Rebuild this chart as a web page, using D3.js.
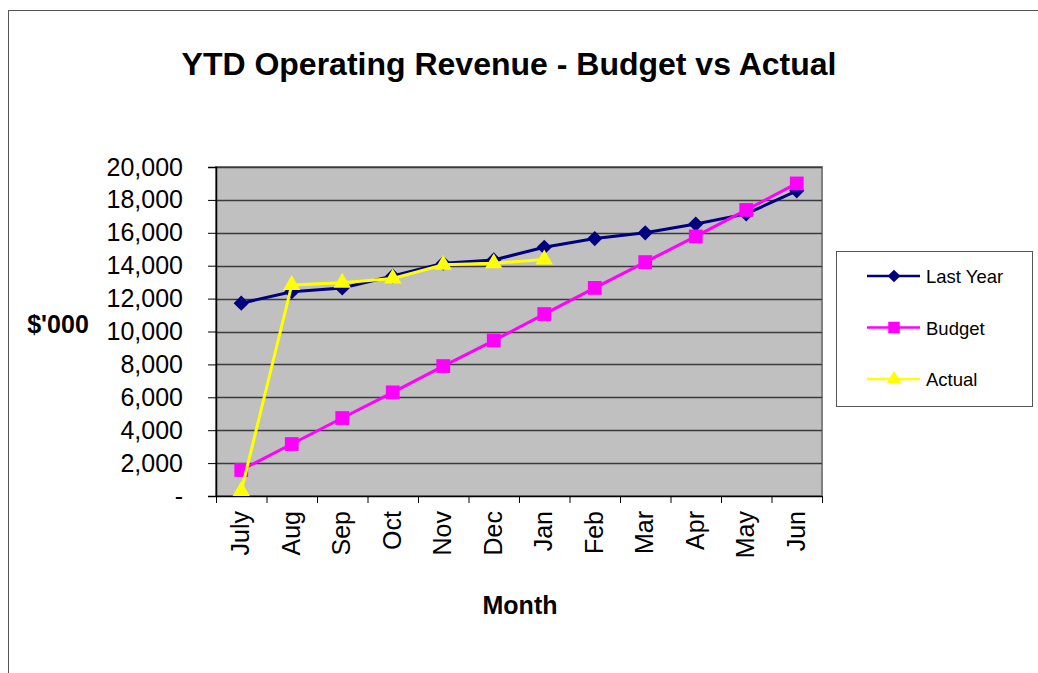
<!DOCTYPE html>
<html>
<head>
<meta charset="utf-8">
<script src="https://cdn.jsdelivr.net/npm/d3@7"></script>
<style>
  body { margin: 0; background: #fff; }
  text { font-family: "Liberation Sans", Arial, sans-serif; }
</style>
</head>
<body>
<div id="chart"></div>
<script>
// data
const months = ["July", "Aug", "Sep", "Oct", "Nov", "Dec", "Jan", "Feb", "Mar", "Apr", "May", "Jun"];
const lastYear = [11720, 12420, 12650, 13370, 14150, 14350, 15120, 15650, 16000, 16530, 17150, 18550];
const budget = [1580, 3160, 4740, 6300, 7900, 9450, 11060, 12650, 14220, 15780, 17390, 19000];
const actual = [300, 12830, 12970, 13220, 14060, 14150, 14380];
const yTicks = [0, 2000, 4000, 6000, 8000, 10000, 12000, 14000, 16000, 18000, 20000];

const W = 1038, H = 673;
const margin = {top: 167, right: 216, bottom: 177, left: 216},
    width = W - margin.left - margin.right,
    height = H - margin.top - margin.bottom;

const svg = d3.select("#chart")
  .append("svg")
    .attr("width", W)
    .attr("height", H);

// outer chart frame (runs off the page on right/bottom)
svg.append("rect")
    .attr("x", 8.5).attr("y", 10.5)
    .attr("width", W + 20).attr("height", H + 20)
    .attr("fill", "none")
    .attr("stroke", "#555")
    .attr("stroke-width", 1);

svg.append("text")
    .attr("x", 509).attr("y", 75)
    .attr("text-anchor", "middle")
    .style("font-size", "32px")
    .style("font-weight", "bold")
    .text("YTD Operating Revenue - Budget vs Actual");

const g = svg.append("g")
    .attr("transform", `translate(${margin.left},${margin.top})`);

const x = d3.scaleBand()
    .domain(months)
    .range([0, width]);

const y = d3.scaleLinear()
    .domain([0, 20000])
    .range([height, 0]);

// plot area
g.append("rect")
    .attr("width", width).attr("height", height)
    .attr("fill", "#C0C0C0")
    .attr("stroke", "#808080")
    .attr("stroke-width", 2);

// gridlines
g.append("g")
  .selectAll("line")
  .data(yTicks.filter(d => d > 0))
  .join("line")
    .attr("x1", 0).attr("x2", width)
    .attr("y1", d => Math.round(y(d)) + 0.5)
    .attr("y2", d => Math.round(y(d)) + 0.5)
    .attr("stroke", "#3a3a3a")
    .attr("stroke-width", 1.5);

// Y axis
const yAxis = g.append("g")
    .call(d3.axisLeft(y)
      .tickValues(yTicks)
      .tickSize(8)
      .tickPadding(25)
      .tickFormat(d => d === 0 ? "-" : d3.format(",")(d)));
yAxis.select(".domain").attr("stroke", "#000").attr("stroke-width", 1.5);
yAxis.selectAll(".tick line").attr("stroke", "#000");
yAxis.selectAll(".tick text")
    .style("font-size", "25px")
    .attr("fill", "#000");

// X axis
const xAxis = g.append("g")
    .attr("transform", `translate(0, ${height})`)
    .call(d3.axisBottom(x).tickSize(0).tickFormat(""));
xAxis.select(".domain").attr("stroke", "#000").attr("stroke-width", 1.5);

// category boundary ticks
g.append("g")
  .selectAll("line")
  .data(d3.range(months.length + 1))
  .join("line")
    .attr("x1", i => i * x.bandwidth() + 0.5)
    .attr("x2", i => i * x.bandwidth() + 0.5)
    .attr("y1", height).attr("y2", height + 7)
    .attr("stroke", "#000");

g.append("g")
  .selectAll("text")
  .data(months)
  .join("text")
    .attr("transform", d => `translate(${x(d) + x.bandwidth() / 2 + 8}, ${height + 15}) rotate(-90)`)
    .attr("text-anchor", "end")
    .style("font-size", "25px")
    .text(d => d);

// axis titles
svg.append("text")
    .attr("x", 58).attr("y", 333)
    .attr("text-anchor", "middle")
    .style("font-size", "25px")
    .style("font-weight", "bold")
    .text("$'000");

svg.append("text")
    .attr("x", 520).attr("y", 614)
    .attr("text-anchor", "middle")
    .style("font-size", "25px")
    .style("font-weight", "bold")
    .text("Month");

const series = [
  {name: "Last Year", values: lastYear, color: "#000080", shape: d3.symbolSquare, size: 115, rot: 45},
  {name: "Budget", values: budget, color: "#FF00FF", shape: d3.symbolSquare, size: 190, rot: 0},
  {name: "Actual", values: actual, color: "#FFFF00", shape: d3.symbolTriangle, size: 130, rot: 0}
];

const cx = i => x(months[i]) + x.bandwidth() / 2;
const line = d3.line()
    .x((d, i) => cx(i))
    .y(d => y(d));

series.forEach(s => {
  g.append("path")
      .datum(s.values)
      .attr("fill", "none")
      .attr("stroke", s.color)
      .attr("stroke-width", 3)
      .attr("d", line);
  g.append("g")
    .selectAll("path")
    .data(s.values)
    .join("path")
      .attr("transform", (d, i) => `translate(${cx(i)},${y(d)}) rotate(${s.rot})`)
      .attr("d", d3.symbol().type(s.shape).size(s.size))
      .attr("fill", s.color);
});

// legend
const legend = svg.append("g");
legend.append("rect")
    .attr("x", 836.5).attr("y", 251.5)
    .attr("width", 196).attr("height", 155)
    .attr("fill", "#fff")
    .attr("stroke", "#555");

series.forEach((s, i) => {
  const ly = 276 + i * 51.5;
  legend.append("line")
      .attr("x1", 867).attr("x2", 920)
      .attr("y1", ly).attr("y2", ly)
      .attr("stroke", s.color)
      .attr("stroke-width", 2.5);
  legend.append("path")
      .attr("transform", `translate(894,${ly}) rotate(${s.rot})`)
      .attr("d", d3.symbol().type(s.shape).size(s.size * 0.7))
      .attr("fill", s.color);
  legend.append("text")
      .attr("x", 926).attr("y", ly + 7)
      .style("font-size", "18.5px")
      .text(s.name);
});
</script>
</body>
</html>
